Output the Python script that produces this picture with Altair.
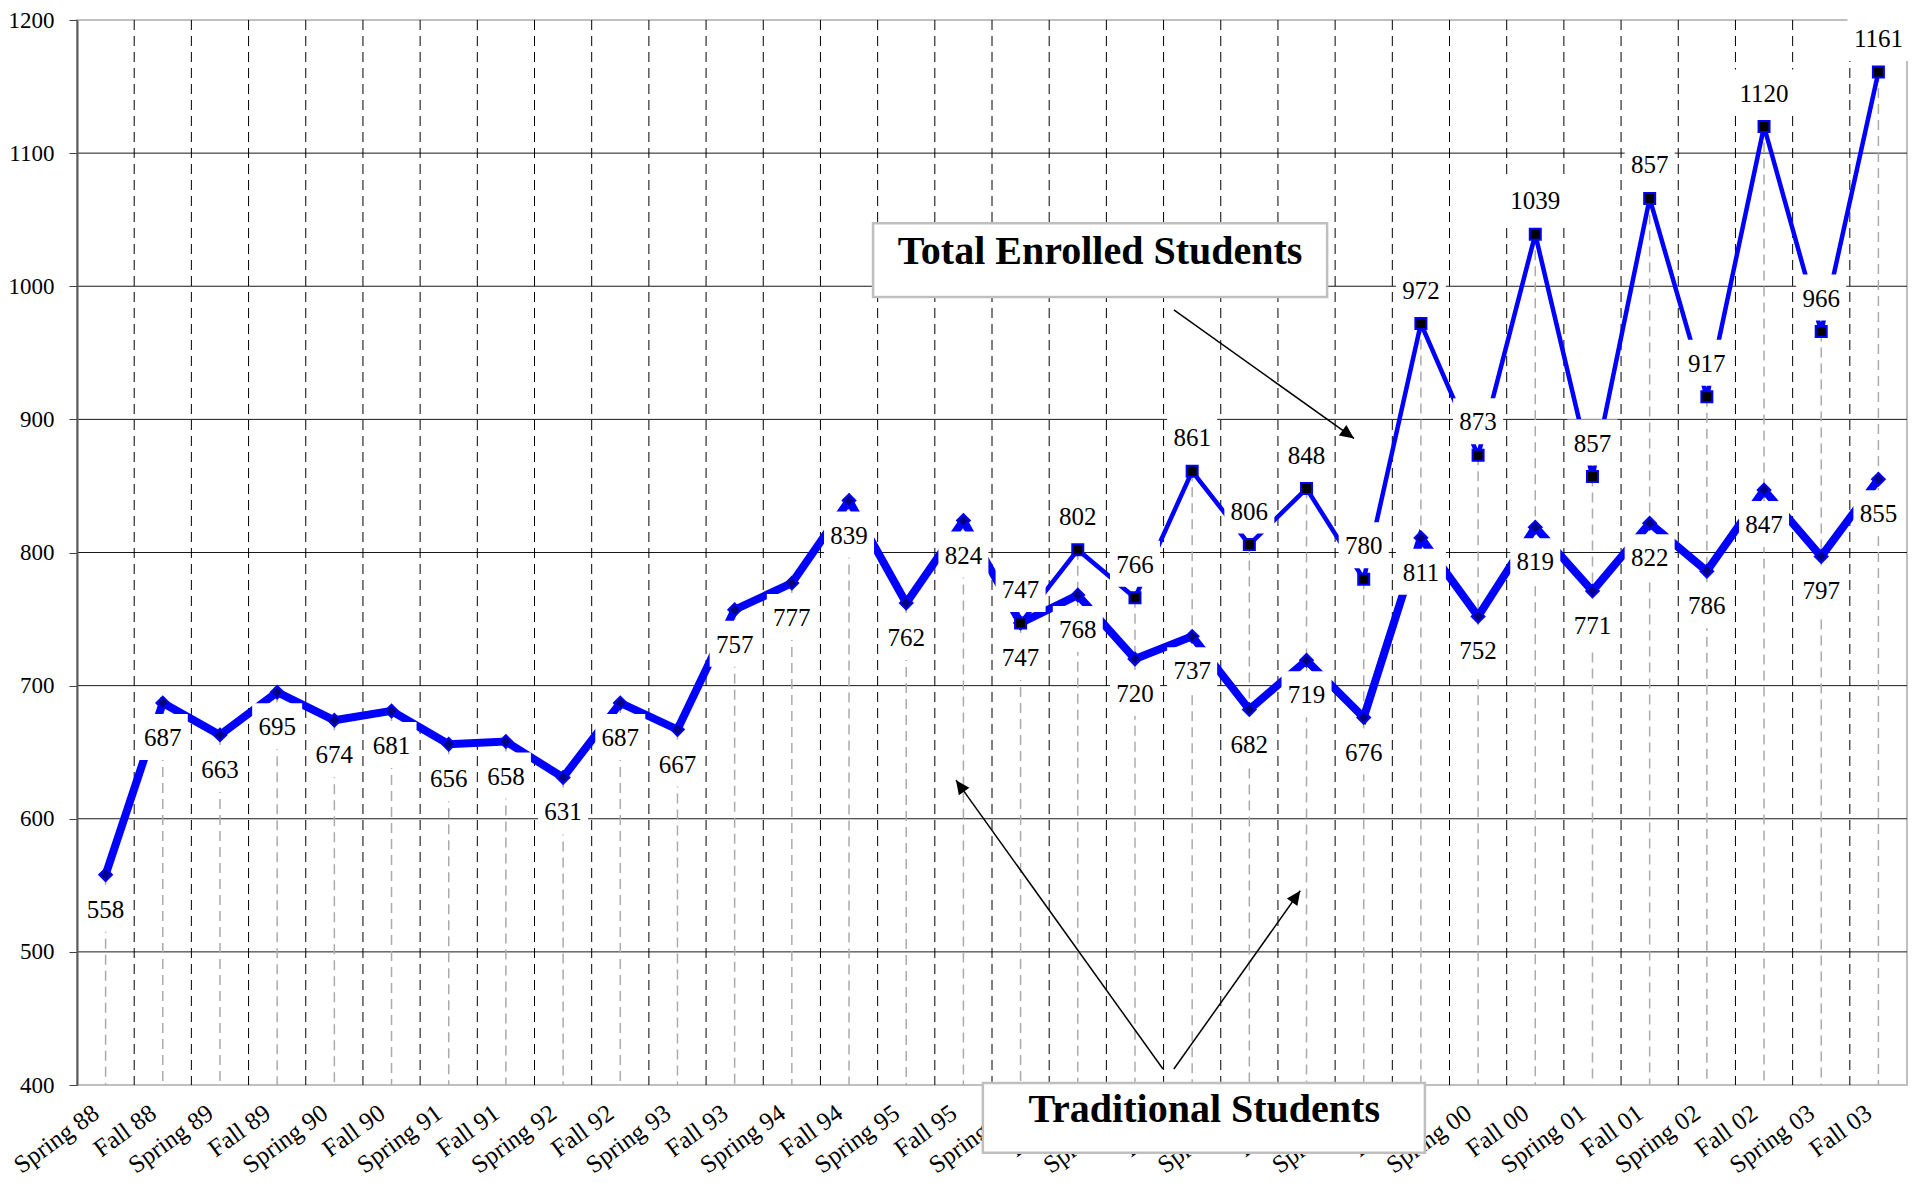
import json
import math
import altair as alt
import pandas as pd

# ---------------- data ----------------
categories = [
    "Spring 88", "Fall 88", "Spring 89", "Fall 89", "Spring 90", "Fall 90",
    "Spring 91", "Fall 91", "Spring 92", "Fall 92", "Spring 93", "Fall 93",
    "Spring 94", "Fall 94", "Spring 95", "Fall 95", "Spring 96", "Fall 96",
    "Spring 97", "Fall 97", "Spring 98", "Fall 98", "Spring 99", "Fall 99",
    "Spring 00", "Fall 00", "Spring 01", "Fall 01", "Spring 02", "Fall 02",
    "Spring 03", "Fall 03",
]
traditional = [558, 687, 663, 695, 674, 681, 656, 658, 631, 687, 667, 757,
               777, 839, 762, 824, 747, 768, 720, 737, 682, 719, 676, 811,
               752, 819, 771, 822, 786, 847, 797, 855]
total_first = "Spring 96"
total = [747, 802, 766, 861, 806, 848, 780, 972, 873, 1039, 857, 1066,
         917, 1120, 966, 1161]
total_labels = ["747", "802", "766", "861", "806", "848", "780", "972",
                "873", "1039", "857", "857", "917", "1120", "966", "1161"]
y_ticks = [400, 500, 600, 700, 800, 900, 1000, 1100, 1200]

# annotations, in data units (category index, students)
note_text = ["Total Enrolled Students", "Traditional Students"]
note_x = [17.39, 19.21]
note_y = [1016.9, 372.5]
note_box_x = [13.42, 15.34]
note_box_x2 = [21.36, 23.07]
note_box_y = [992.0, 349.1]
note_box_y2 = [1047.3, 401.5]
arrow_x = [18.68, 18.49, 18.68]
arrow_y = [982.2, 412.0, 412.0]
arrow_x2 = [21.83, 14.87, 20.89]
arrow_y2 = [885.7, 629.0, 545.9]

# ---------------- layout ----------------
W, H = 1830, 1065
FONT = "Liberation Serif"
BLUE = "#0000FF"
n = len(categories)
BAND = W / n
YPX = H / (y_ticks[-1] - y_ticks[0])

start = categories.index(total_first)
trad_df = pd.DataFrame({"pos": list(range(n)), "value": traditional,
                        "label": [str(v) for v in traditional]})
total_df = pd.DataFrame({"pos": list(range(start, start + len(total))),
                         "value": total, "label": total_labels})
top_vals = list(traditional)
for i, v in enumerate(total):
    top_vals[start + i] = max(top_vals[start + i], v)
drop_df = pd.DataFrame({"pos": list(range(n)), "top": top_vals})
bound_df = pd.DataFrame({"b": [i + 0.5 for i in range(n - 1)]})
grid_df = pd.DataFrame({"g": y_ticks[1:-1]})
note_df = pd.DataFrame({"text": note_text, "tx": note_x, "ty": note_y,
                        "bx": note_box_x, "bx2": note_box_x2,
                        "by": note_box_y, "by2": note_box_y2})
angles = []
for x1, y1, x2, y2 in zip(arrow_x, arrow_y, arrow_x2, arrow_y2):
    dx = (x2 - x1) * BAND
    dy = -(y2 - y1) * YPX
    angles.append(math.degrees(math.atan2(dx, -dy)) % 360)
arrow_df = pd.DataFrame({"ax": arrow_x, "ay": arrow_y, "ax2": arrow_x2,
                         "ay2": arrow_y2, "angle": angles})

xscale = alt.Scale(domain=[-0.5, n - 0.5], nice=False, zero=False)
yscale = alt.Scale(domain=[y_ticks[0], y_ticks[-1]], nice=False, zero=False)
xaxis = alt.Axis(values=list(range(n)),
                 labelExpr=json.dumps(categories) + "[datum.value]",
                 grid=False, domain=False, ticks=False, title=None,
                 labelAngle=324, labelAlign="right", labelBaseline="top",
                 labelPadding=15, labelOffset=-17, labelFont=FONT,
                 labelFontSize=25, labelColor="black",
                 labelOverlap=False, labelFlush=False, labelBound=False)
yaxis = alt.Axis(values=y_ticks, format="d", grid=False, domain=True,
                 domainColor="#595959", domainWidth=2, ticks=True,
                 tickColor="#404040", tickSize=8, tickWidth=1, title=None,
                 labelFont=FONT, labelFontSize=23, labelColor="black",
                 labelPadding=15, labelOverlap=False, labelFlush=False,
                 zindex=1)


def X(f):
    return alt.X(f + ":Q", scale=xscale, axis=xaxis)


def Y(f):
    return alt.Y(f + ":Q", scale=yscale, axis=yaxis)


hgrid = alt.Chart(grid_df).mark_rule(color="#1a1a1a", strokeWidth=1).encode(y=Y("g"))
vgrid = alt.Chart(bound_df).mark_rule(color="black", strokeWidth=1,
                                      strokeDash=[10, 6]).encode(x=X("b"))
drops = alt.Chart(drop_df).mark_rule(color="#ABABAB", strokeWidth=1.5,
                                     strokeDash=[10, 6]).encode(
    x=X("pos"), y=Y("top"), y2=alt.datum(y_ticks[0]))

trad_line = alt.Chart(trad_df).mark_line(color=BLUE, strokeWidth=8).encode(
    x=X("pos"), y=Y("value"))
trad_pts = alt.Chart(trad_df).mark_point(
    shape="diamond", filled=True, fill="#000080", stroke=BLUE,
    strokeWidth=2, size=160, opacity=1).encode(x=X("pos"), y=Y("value"))
tot_line = alt.Chart(total_df).mark_line(color=BLUE, strokeWidth=4.5).encode(
    x=X("pos"), y=Y("value"))
tot_pts = alt.Chart(total_df).mark_point(
    shape="square", filled=True, fill="black", stroke=BLUE,
    strokeWidth=2, size=121, opacity=1).encode(x=X("pos"), y=Y("value"))

trad_box = alt.Chart(trad_df).mark_rect(
    color="white", xOffset=-25, x2Offset=25, yOffset=11, y2Offset=57).encode(
    x=X("pos"), x2="pos", y=Y("value"), y2="value")
tot_box3 = alt.Chart(total_df).transform_filter("length(datum.label) <= 3").mark_rect(
    color="white", xOffset=-25, x2Offset=25, yOffset=-57, y2Offset=-11).encode(
    x=X("pos"), x2="pos", y=Y("value"), y2="value")
tot_box4 = alt.Chart(total_df).transform_filter("length(datum.label) > 3").mark_rect(
    color="white", xOffset=-31, x2Offset=31, yOffset=-57, y2Offset=-11).encode(
    x=X("pos"), x2="pos", y=Y("value"), y2="value")

trad_txt = alt.Chart(trad_df).mark_text(
    font=FONT, fontSize=25, color="black", align="center",
    baseline="alphabetic", dy=43).encode(x=X("pos"), y=Y("value"), text="label")
tot_txt = alt.Chart(total_df).mark_text(
    font=FONT, fontSize=25, color="black", align="center",
    baseline="alphabetic", dy=-25).encode(x=X("pos"), y=Y("value"), text="label")

note_box = alt.Chart(note_df).mark_rect(
    fill="white", stroke="#BFBFBF", strokeWidth=2.5).encode(
    x=X("bx"), x2="bx2", y=Y("by"), y2="by2")
note_txt = alt.Chart(note_df).mark_text(
    font=FONT, fontSize=40, fontWeight="bold", color="black",
    align="center", baseline="alphabetic").encode(
    x=X("tx"), y=Y("ty"), text="text")

ARROW = "M0,0L-0.46,1L0.46,1Z"
arrows = alt.Chart(arrow_df).mark_rule(color="black", strokeWidth=1.5).encode(
    x=X("ax"), y=Y("ay"), x2="ax2", y2="ay2")
heads = alt.Chart(arrow_df).mark_point(
    shape=ARROW, filled=True, color="black", size=784, opacity=1).encode(
    x=X("ax2"), y=Y("ay2"), angle=alt.Angle("angle:Q", scale=None))

chart = alt.layer(
    hgrid, vgrid, drops, trad_line, trad_pts, tot_line, tot_pts,
    trad_box, tot_box3, tot_box4, trad_txt, tot_txt,
    note_box, note_txt, arrows, heads,
).properties(
    width=W, height=H,
    autosize=alt.AutoSizeParams(type="none"),
    padding={"left": 69, "top": 12, "right": 12, "bottom": 92},
).configure(font=FONT).configure_view(stroke="#BFBFBF", strokeWidth=2)

chart.save("out.html", embed_options={"renderer": "svg", "actions": False})
